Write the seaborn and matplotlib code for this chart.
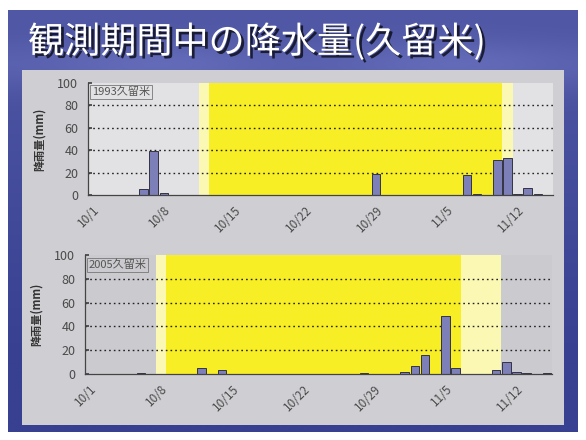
import numpy as np
import pandas as pd
import matplotlib
matplotlib.use("Agg")
import matplotlib.pyplot as plt
import matplotlib.patheffects as pe
import matplotlib.transforms as mtrans
from matplotlib.patches import Rectangle
import seaborn as sns

sns.set_theme(style="white")
plt.rcParams["font.family"] = ["Noto Sans CJK JP", "DejaVu Sans"]

# ---- data -------------------------------------------------------------
title = "観測期間中の降水量(久留米)"
ylabel = "降雨量(mm)"
days = [f"{d.month}/{d.day}" for d in pd.date_range("2000-10-01", "2000-11-15")]
tick_days = ["10/1", "10/8", "10/15", "10/22", "10/29", "11/5", "11/12"]

label_1993 = "1993久留米"
rain_1993 = [0, 0, 0, 0, 0, 5, 39, 2, 0, 0,
             0, 0, 0, 0, 0, 0, 0, 0, 0, 0,
             0, 0, 0, 0, 0, 0, 0, 0, 19, 0,
             0, 0, 0, 0, 0, 0, 0, 18, 1, 0,
             31, 33, 1, 6, 1, 0]
# observation period: (first partial day, full period start, full period end, last partial day)
obs_1993 = ("10/12", "10/13", "11/10", "11/11")

label_2005 = "2005久留米"
rain_2005 = [0, 0, 0, 0, 0, 0.6, 0, 0, 0, 0,
             0, 5, 0, 3.5, 0, 0, 0, 0, 0, 0,
             0, 0, 0, 0, 0, 0, 0, 1, 0, 0,
             0, 2, 7, 16, 0, 49, 5, 0, 0, 0,
             3, 10, 2, 1, 0, 1]
obs_2005 = ("10/8", "10/9", "11/6", "11/10")

# ---- figure & slide background -----------------------------------------
W, H = 586, 440
fig = plt.figure(figsize=(W / 100, H / 100), dpi=100)
fig.patch.set_facecolor("white")

bg = fig.add_axes([0, 0, 1, 1], zorder=0)
bg.set_xlim(0, W)
bg.set_ylim(H, 0)
bg.axis("off")

yy = np.linspace(0, 1, 200)[:, None]
xx = np.linspace(0, 1, 300)[None, :]
top_c = np.array([80, 88, 165]) / 255
bot_c = np.array([55, 64, 145]) / 255
mix = np.clip(yy * 1.2, 0, 1)
grad = top_c * (1 - mix[..., None]) + bot_c * mix[..., None]
glow = 0.09 * np.exp(-((yy - 0.13) ** 2) / 0.004) * (0.6 + 0.4 * np.sin(xx * 6.0) ** 2)
grad = np.clip(grad + glow[..., None], 0, 1)
grad = np.broadcast_to(grad, (200, 300, 3))
bg.imshow(grad, extent=(8, 578, 432, 10), aspect="auto", zorder=0)

bg.add_patch(Rectangle((22, 70), 542, 355, facecolor="#cfcfd3", edgecolor="none", zorder=1))

bg.text(28, 42, title, fontsize=26, color="white", va="center", ha="left", zorder=3,
        path_effects=[pe.withSimplePatchShadow(offset=(2, -2), shadow_rgbFace="black", alpha=0.7)])

# ---- charts ------------------------------------------------------------
bar_color = "#7d80b8"
text_color = "#4a4a4a"
label_shift = mtrans.ScaledTranslation(-10 / 100, -2 / 100, fig.dpi_scale_trans)


def draw_panel(rect, rain, obs, tag, face):
    ax = fig.add_axes(rect, zorder=2)
    ax.set_facecolor(face)
    df = pd.DataFrame({"day": days, "rain": rain})
    idx = {d: i for i, d in enumerate(days)}

    p0, s0, s1, p1 = (idx[d] for d in obs)
    ax.axvspan(p0 - 0.5, s0 - 0.5, color="#fbf8b4", zorder=0, lw=0)
    ax.axvspan(s0 - 0.5, s1 + 0.5, color="#f8ee26", zorder=0, lw=0)
    ax.axvspan(s1 + 0.5, p1 + 0.5, color="#fbf8b4", zorder=0, lw=0)

    for v in (20, 40, 60, 80):
        ax.axhline(v, color="#222222", ls=(0, (1.2, 2.2)), lw=1.0, zorder=0.5)

    sns.barplot(data=df, x="day", y="rain", order=days, ax=ax, color=bar_color,
                edgecolor="#333344", linewidth=0.7, width=0.85, saturation=1, zorder=2)

    ax.set_xlim(-0.5, len(days) - 0.5)
    ax.set_ylim(0, 100)
    ax.set_yticks([0, 20, 40, 60, 80, 100])
    ax.set_xticks([idx[d] for d in tick_days])
    ax.set_xticklabels(tick_days, rotation=45, ha="right", rotation_mode="anchor",
                       fontsize=8.5, color=text_color)
    for lab in ax.get_xticklabels():
        lab.set_transform(lab.get_transform() + label_shift)
    ax.set_xticks(np.arange(-0.5, len(days), 1), minor=True)
    ax.tick_params(axis="x", which="major", length=0, pad=6)
    ax.tick_params(axis="x", which="minor", direction="in", length=2.5, color="#444444", width=0.6)
    ax.tick_params(axis="y", direction="in", length=3, color="#444444", labelsize=9,
                   labelcolor=text_color, pad=7, left=True)
    ax.set_xlabel("")
    ax.set_ylabel(ylabel, fontsize=8, color="#333333", labelpad=8, fontweight="bold")
    for s in ("top", "right"):
        ax.spines[s].set_visible(False)
    for s in ("left", "bottom"):
        ax.spines[s].set_color("#444444")
        ax.spines[s].set_linewidth(0.9)
    ax.text(0.008, 0.92, tag, transform=ax.transAxes, fontsize=8, color="#555555",
            va="center", ha="left", zorder=3,
            bbox=dict(boxstyle="square,pad=0.15", facecolor="none", edgecolor="#777777", lw=0.6))
    return ax


draw_panel([88 / W, 1 - 195 / H, 465 / W, 112 / H], rain_1993, obs_1993, label_1993, "#e2e2e4")
draw_panel([85 / W, 1 - 374 / H, 467 / W, 119 / H], rain_2005, obs_2005, label_2005, "#cbcbcf")

fig.savefig("out.png", dpi=100)
